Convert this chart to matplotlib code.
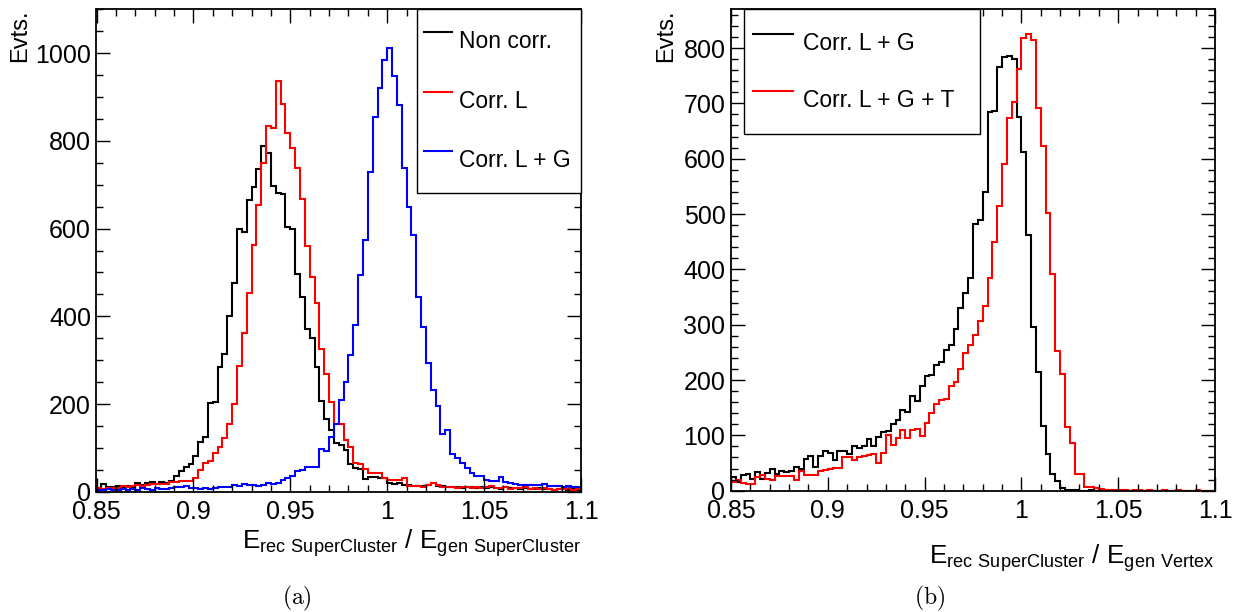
import numpy as np
import matplotlib
matplotlib.use("Agg")
import matplotlib.pyplot as plt
from matplotlib.lines import Line2D
from matplotlib.ticker import MultipleLocator, FuncFormatter

plt.rcParams['font.family'] = ['Liberation Sans', 'DejaVu Sans']
plt.rcParams['mathtext.default'] = 'regular'

# ---------------- data ----------------
x_min, x_max, n_bins = 0.85, 1.1, 100

# panel (a)
non_corr = [8, 17, 10, 12, 13, 12, 13, 10, 19, 16, 19, 22, 18, 22, 19, 25, 37, 48, 57, 63,
            82, 114, 124, 202, 205, 285, 314, 401, 477, 599, 593, 665, 696, 737, 789, 773, 697, 682, 680, 604,
            599, 496, 445, 371, 350, 285, 208, 165, 142, 111, 107, 95, 63, 54, 51, 29, 33, 34, 31, 31,
            19, 18, 19, 16, 16, 14, 13, 13, 16, 20, 13, 13, 12, 10, 11, 9, 12, 10, 9, 11,
            8, 10, 9, 7, 10, 8, 9, 7, 8, 6, 7, 8, 6, 7, 5, 6, 7, 5, 6, 5]
corr_l = [8, 6, 9, 8, 9, 13, 12, 13, 15, 13, 16, 17, 18, 17, 18, 22, 22, 25, 25, 24,
          31, 50, 66, 70, 89, 103, 122, 155, 200, 287, 361, 453, 563, 653, 750, 834, 830, 936, 885, 819,
          783, 739, 668, 560, 489, 431, 325, 269, 204, 155, 155, 118, 103, 65, 63, 51, 42, 42, 42, 31,
          27, 28, 27, 31, 14, 13, 14, 12, 16, 19, 15, 12, 10, 12, 9, 11, 10, 8, 12, 9,
          10, 13, 9, 8, 10, 7, 9, 8, 10, 7, 8, 6, 9, 7, 5, 7, 6, 8, 5, 6]
corr_lg_a = [5, 3, 6, 4, 5, 7, 4, 6, 5, 8, 6, 5, 9, 7, 6, 8, 12, 10, 14, 9,
             8, 7, 8, 6, 9, 11, 10, 12, 15, 14, 17, 16, 15, 14, 16, 19, 18, 21, 27, 31,
             35, 48, 50, 57, 57, 57, 97, 93, 126, 155, 209, 251, 312, 380, 494, 574, 730, 854, 920, 985,
             1011, 947, 882, 738, 650, 586, 445, 376, 293, 232, 196, 132, 142, 86, 76, 65, 54, 42, 35, 35,
             28, 25, 25, 33, 23, 21, 18, 16, 16, 16, 16, 16, 18, 14, 13, 14, 12, 13, 11, 12]

# panel (b)
corr_lg_b = [24, 15, 29, 30, 21, 33, 21, 32, 39, 30, 35, 33, 36, 42, 40, 57, 62, 42, 63, 72,
             69, 56, 71, 71, 67, 81, 77, 80, 94, 81, 97, 106, 108, 121, 127, 145, 143, 172, 162, 190,
             208, 209, 228, 232, 255, 264, 292, 330, 358, 384, 482, 490, 539, 685, 687, 766, 783, 785, 780, 676,
             612, 462, 295, 215, 117, 66, 31, 18, 4, 2, 1, 1, 0, 0, 1, 0, 0, 0, 0, 0,
             0, 0, 0, 0, 0, 0, 0, 0, 0, 0, 0, 0, 0, 0, 0, 0, 0, 0, 0, 0]
corr_lgt_b = [15, 19, 14, 12, 12, 24, 29, 21, 19, 26, 27, 27, 27, 19, 35, 29, 29, 29, 36, 37,
              40, 41, 41, 60, 60, 56, 60, 63, 64, 66, 50, 68, 101, 83, 96, 110, 96, 110, 112, 98,
              123, 141, 157, 164, 166, 190, 197, 220, 248, 263, 282, 306, 333, 384, 450, 514, 591, 673, 702, 762,
              818, 826, 814, 691, 623, 502, 392, 252, 210, 116, 87, 30, 30, 7, 6, 5, 3, 2, 2, 1,
              1, 1, 0, 1, 1, 0, 1, 0, 0, 1, 0, 0, 1, 0, 0, 0, 1, 0, 0, 0]

labels_a = ["Non corr.", "Corr. L", "Corr. L + G"]
labels_b = ["Corr. L + G", "Corr. L + G + T"]
colors_a = ["#000000", "#ff0000", "#0000ff"]
colors_b = ["#000000", "#ff0000"]
xlabel_a = r"E$_{rec\ SuperCluster}$ / E$_{gen\ SuperCluster}$"
xlabel_b = r"E$_{rec\ SuperCluster}$ / E$_{gen\ Vertex}$"

edges = np.linspace(x_min, x_max, n_bins + 1)

# ---------------- figure ----------------
W, H = 1239, 612
fig = plt.figure(figsize=(W / 100, H / 100), dpi=100)
axA = fig.add_axes([96.5 / W, 1 - 491.8 / H, 484.5 / W, 482.5 / H])
axB = fig.add_axes([731 / W, 1 - 490.7 / H, 484 / W, 481.4 / H])

TICK_FS = 18
LEG_FS = 16.5
XLAB_FS = 18.7


def style(ax, ymax, ymajor, yminor):
    ax.set_xlim(x_min, x_max)
    ax.set_ylim(0, ymax)
    ax.xaxis.set_major_locator(MultipleLocator(0.05))
    ax.xaxis.set_minor_locator(MultipleLocator(0.01))
    ax.yaxis.set_major_locator(MultipleLocator(ymajor))
    ax.yaxis.set_minor_locator(MultipleLocator(yminor))
    ax.xaxis.set_major_formatter(FuncFormatter(lambda v, p: f"{v:g}"))
    ax.tick_params(which='both', direction='in', top=True, right=True,
                   labelsize=TICK_FS, width=1.0, color='black')
    ax.tick_params(which='major', length=10)
    ax.tick_params(which='minor', length=5)
    ax.tick_params(axis='x', pad=6)
    ax.tick_params(axis='y', pad=4)
    for s in ax.spines.values():
        s.set_linewidth(1.3)


style(axA, 1100, 200, 50)
style(axB, 870, 100, 20)

for vals, c in zip([non_corr, corr_l, corr_lg_a], colors_a):
    axA.stairs(vals, edges, color=c, linewidth=1.5, baseline=0)
for vals, c in zip([corr_lg_b, corr_lgt_b], colors_b):
    axB.stairs(vals, edges, color=c, linewidth=1.5, baseline=0)

# legends
hA = [Line2D([], [], color=c, lw=1.5) for c in colors_a]
legA = axA.legend(hA, labels_a, loc='upper left', bbox_to_anchor=(0.662, 0.0, 0.338, 1.0),
                  mode='expand', borderaxespad=0, fontsize=LEG_FS, fancybox=False,
                  edgecolor='black', framealpha=1, borderpad=0.3, handlelength=1.21,
                  handletextpad=0.32, handleheight=3.0, labelspacing=0.41)
legA.get_frame().set_linewidth(1.0)

hB = [Line2D([], [], color=c, lw=1.5) for c in colors_b]
legB = axB.legend(hB, labels_b, loc='upper left', bbox_to_anchor=(0.0275, 0.0, 0.4865, 1.0),
                  mode='expand', borderaxespad=0, fontsize=LEG_FS, fancybox=False,
                  edgecolor='black', framealpha=1, borderpad=0.38, handlelength=1.75,
                  handletextpad=0.42, handleheight=3.0, labelspacing=0.31)
legB.get_frame().set_linewidth(1.0)

# axis titles
axA.text(-0.158, 1.0, "Evts.", rotation=90, ha='center', va='top',
         transform=axA.transAxes, fontsize=17)
axB.text(-0.134, 1.0, "Evts.", rotation=90, ha='center', va='top',
         transform=axB.transAxes, fontsize=17)
axA.text(1.0, -0.118, xlabel_a, ha='right', va='baseline', transform=axA.transAxes,
         fontsize=XLAB_FS)
axB.text(1.0, -0.151, xlabel_b, ha='right', va='baseline', transform=axB.transAxes,
         fontsize=XLAB_FS)

# captions
fig.text(297 / W, 1 - 598 / H, r"$\mathrm{(a)}$", ha='center', va='center', fontsize=17,
         math_fontfamily='cm')
fig.text(930 / W, 1 - 598 / H, r"$\mathrm{(b)}$", ha='center', va='center', fontsize=17,
         math_fontfamily='cm')

fig.savefig("out.png", dpi=100)
